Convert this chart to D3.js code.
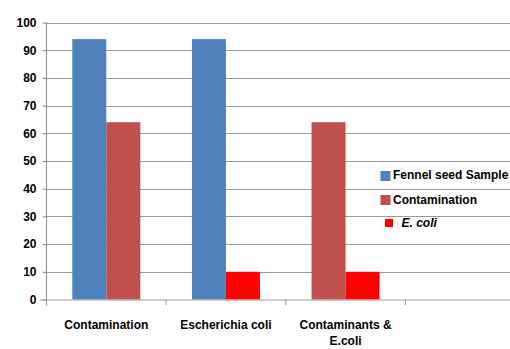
<!DOCTYPE html>
<html><head><meta charset="utf-8">
<script src="https://cdn.jsdelivr.net/npm/d3@7"></script>
<style>body{margin:0;background:#fff}svg{display:block}text{font-family:"Liberation Sans",Arial,sans-serif;font-weight:bold;fill:#000}</style>
</head><body>
<script>
const categories = ["Contamination", "Escherichia coli", "Contaminants &\nE.coli", ""];
const seriesNames = ["Fennel seed Sample", "Contamination", "E. coli"];
const fennel = [94, 94, 0, 0];
const contamination = [64, 0, 64, 0];
const ecoli = [0, 10, 10, 0];
const yTicks = [0, 10, 20, 30, 40, 50, 60, 70, 80, 90, 100];
const colors = ["#4F81BD", "#C0504D", "#FF0000"];

const W = 510, H = 349;
const svg = d3.select("body").append("svg").attr("width", W).attr("height", H);

const x = d3.scaleBand().domain(categories).range([46.5, 525]).padding(0);
const y = d3.scaleLinear().domain([0, 100]).range([299.5, 22.5]);
const series = [fennel, contamination, ecoli];

// gridlines
svg.append("g").selectAll("line").data(yTicks.filter(d => d > 0)).join("line")
  .attr("x1", 46.5).attr("x2", W).attr("y1", d => Math.round(y(d)) + 0.5).attr("y2", d => Math.round(y(d)) + 0.5)
  .attr("stroke", "#9a9a9a").attr("stroke-width", 1);

// bars
const barW = 34;
categories.forEach((c, i) => {
  const present = series.map((s, k) => ({k, v: s[i]})).filter(d => d.v > 0);
  if (!present.length) return;
  const cx = x(c) + x.bandwidth() / 2;
  const inner = d3.scaleBand().domain(present.map(d => d.k)).range([cx - barW * present.length / 2, cx + barW * present.length / 2]);
  svg.append("g").selectAll("rect").data(present).join("rect")
    .attr("x", d => inner(d.k)).attr("width", inner.bandwidth())
    .attr("y", d => y(d.v)).attr("height", d => y(0) - y(d.v))
    .attr("fill", d => colors[d.k]);
});

// y axis
const yAxis = d3.axisLeft(y).tickValues(yTicks).tickSize(4).tickPadding(6);
const gy = svg.append("g").attr("transform", "translate(46.5,0)").call(yAxis);
gy.select(".domain").attr("stroke", "#888").attr("d", "M0," + y(100) + "V" + (y(0) + 6));
gy.selectAll(".tick line").attr("stroke", "#888");
gy.selectAll(".tick text").style("font-size", "12px").style("font-family", "'Liberation Sans',Arial,sans-serif").style("font-weight", "bold").attr("fill", "#000");

// x axis
const xAxis = d3.axisBottom(x).tickSize(5).tickFormat("");
const gx = svg.append("g").attr("transform", "translate(0," + (y(0) + 0.5) + ")").call(xAxis);
gx.select(".domain").attr("stroke", "#999").attr("d", "M40,0H" + W);
gx.selectAll(".tick line").attr("stroke", "#999").attr("transform", function(d){ return "translate(" + (-x.bandwidth()/2) + ",0)"; });
svg.append("line").attr("x1", x.range()[1]).attr("x2", x.range()[1]).attr("y1", y(0)).attr("y2", y(0) + 5).attr("stroke", "#999");

// category labels
categories.forEach(c => {
  if (!c) return;
  const lines = c.split("\n");
  const t = svg.append("text").attr("text-anchor", "middle").style("font-size", "12px")
    .attr("x", x(c) + x.bandwidth() / 2).attr("y", 329);
  lines.forEach((l, j) => t.append("tspan").attr("x", x(c) + x.bandwidth() / 2).attr("dy", j ? 16 : 0).text(l));
});

// legend
const leg = [
  {name: seriesNames[0], color: colors[0], sx: 380.5, sy: 171, s: 10, tx: 393, ty: 179, italic: false},
  {name: seriesNames[1], color: colors[1], sx: 380.5, sy: 195, s: 10, tx: 393, ty: 204, italic: false},
  {name: seriesNames[2], color: colors[2], sx: 385, sy: 219, s: 8, tx: 401.5, ty: 227, italic: true}
];
const lg = svg.append("g").selectAll("g").data(leg).join("g");
lg.append("rect").attr("x", d => d.sx).attr("y", d => d.sy).attr("width", d => d.s).attr("height", d => d.s).attr("fill", d => d.color);
lg.append("text").attr("x", d => d.tx).attr("y", d => d.ty).style("font-size", "12px")
  .style("font-style", d => d.italic ? "italic" : "normal").text(d => d.name);
</script>
</body></html>
